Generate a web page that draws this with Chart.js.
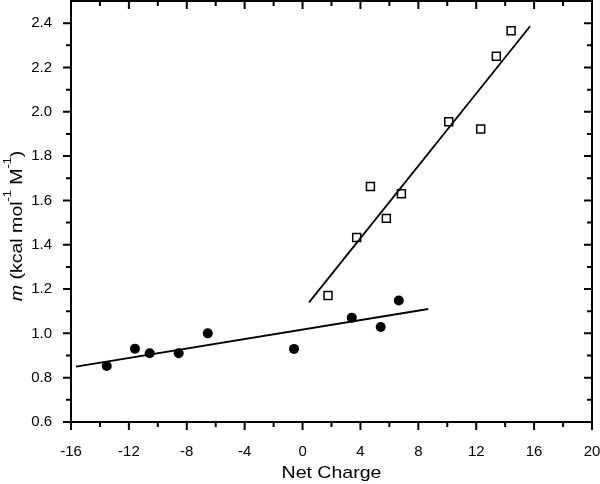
<!DOCTYPE html>
<html>
<head>
<meta charset="utf-8">
<script src="https://cdn.jsdelivr.net/npm/chart.js@4.4.0/dist/chart.umd.min.js"></script>
<style>
  html, body { margin: 0; padding: 0; background: #fff; }
  #wrap { width: 600px; height: 484px; }
</style>
</head>
<body>
<div id="wrap"><canvas id="grafico" width="600" height="484"></canvas></div>
<script>
// puntos negros (círculos)
const circleX = [-13.53, -11.58, -10.56, -8.56, -6.55, -0.59, 3.40, 5.40, 6.65];
const circleY = [0.853, 0.931, 0.910, 0.910, 1.000, 0.930, 1.071, 1.029, 1.148];

// cuadrados abiertos
const squareX = [1.76, 3.74, 4.69, 5.79, 6.83, 10.10, 12.31, 13.39, 14.41];
const squareY = [1.171, 1.433, 1.663, 1.519, 1.630, 1.955, 1.922, 2.251, 2.366];

// rectas de ajuste (extremos)
const fit1X = [-15.65, 8.69];
const fit1Y = [0.850, 1.110];
const fit2X = [0.45, 15.72];
const fit2Y = [1.140, 2.386];

const xTicks = [-16, -12, -8, -4, 0, 4, 8, 12, 16, 20];
const yTicks = [0.6, 0.8, 1.0, 1.2, 1.4, 1.6, 1.8, 2.0, 2.2, 2.4];

const xTitle = 'Net Charge';
const FONT = '"Liberation Sans", Arial, sans-serif';
const STRETCH = 1.15; // el original está algo ensanchado

function pares(xs, ys) {
    return xs.map((x, i) => ({ x: x, y: ys[i] }));
}

function sinPadding(s) {
    s.paddingLeft = 0; s.paddingRight = 0; s.paddingTop = 0; s.paddingBottom = 0;
}

// dibuja trozos de texto seguidos, centrados en (0,0)
function textoCompuesto(ctx, partes) {
    let total = 0;
    partes.forEach(p => { ctx.font = p.f; p.w = ctx.measureText(p.t).width; total += p.w; });
    let x = -total / 2;
    partes.forEach(p => {
        ctx.font = p.f;
        ctx.fillText(p.t, x, p.dy || 0);
        x += p.w;
    });
}

// marco, marcas mayores/menores y títulos
const marcoPlugin = {
    id: 'marco',
    afterDraw(chart) {
        const ctx = chart.ctx;
        const a = chart.chartArea;
        const sx = chart.scales.x, sy = chart.scales.y;
        ctx.save();
        ctx.strokeStyle = '#000';
        ctx.lineWidth = 2;
        ctx.strokeRect(a.left, a.top, a.right - a.left, a.bottom - a.top);

        ctx.beginPath();
        for (let v = -16; v <= 20; v += 2) {
            const px = sx.getPixelForValue(v);
            const len = (v % 4 === 0) ? 8 : 5;
            ctx.moveTo(px, a.bottom); ctx.lineTo(px, a.bottom + len);
            ctx.moveTo(px, a.top); ctx.lineTo(px, a.top + len);
        }
        for (let i = 6; i <= 24; i++) {
            const py = sy.getPixelForValue(i / 10);
            const len = (i % 2 === 0) ? 8 : 5;
            ctx.moveTo(a.left, py); ctx.lineTo(a.left - len, py);
            ctx.moveTo(a.right, py); ctx.lineTo(a.right - len, py);
        }
        ctx.stroke();

        ctx.fillStyle = '#000';
        ctx.textBaseline = 'alphabetic';

        // título X
        ctx.save();
        ctx.translate((a.left + a.right) / 2, 478);
        ctx.scale(STRETCH, 1);
        textoCompuesto(ctx, [{ t: xTitle, f: '17px ' + FONT }]);
        ctx.restore();

        // título Y: m (kcal mol-1 M-1)
        ctx.save();
        ctx.translate(22, 226);
        ctx.rotate(-Math.PI / 2);
        ctx.scale(STRETCH, 1);
        textoCompuesto(ctx, [
            { t: 'm', f: 'italic 17px ' + FONT },
            { t: ' (kcal mol', f: '17px ' + FONT },
            { t: '-1', f: '11px ' + FONT, dy: -11 },
            { t: ' M', f: '17px ' + FONT },
            { t: '-1', f: '11px ' + FONT, dy: -11 },
            { t: ')', f: '17px ' + FONT }
        ]);
        ctx.restore();
        ctx.restore();
    }
};

let ctx = document.getElementById('grafico').getContext('2d');
new Chart(ctx, {
    type: 'scatter',
    data: {
        datasets: [
            {
                data: pares(fit1X, fit1Y),
                showLine: true,
                borderColor: '#000',
                borderWidth: 1.8,
                pointRadius: 0
            },
            {
                data: pares(fit2X, fit2Y),
                showLine: true,
                borderColor: '#000',
                borderWidth: 1.8,
                pointRadius: 0
            },
            {
                data: pares(circleX, circleY),
                pointStyle: 'circle',
                pointRadius: 5,
                backgroundColor: '#000',
                borderColor: '#000',
                borderWidth: 0
            },
            {
                data: pares(squareX, squareY),
                pointStyle: 'rect',
                pointRadius: 5.6,
                backgroundColor: '#fff',
                borderColor: '#000',
                borderWidth: 1.5
            }
        ]
    },
    options: {
        responsive: false,
        animation: false,
        layout: { autoPadding: false, padding: { top: 1, right: 8, left: 0, bottom: 0 } },
        plugins: {
            legend: { display: false },
            tooltip: { enabled: false }
        },
        scales: {
            x: {
                type: 'linear',
                min: -16,
                max: 20,
                afterBuildTicks: s => { s.ticks = xTicks.map(v => ({ value: v })); },
                afterFit: s => { s.height = 62; sinPadding(s); },
                grid: { display: false },
                border: { display: false },
                ticks: {
                    color: '#000',
                    padding: 13,
                    maxRotation: 0,
                    font: { family: FONT, size: 15 },
                    callback: v => v
                }
            },
            y: {
                type: 'linear',
                min: 0.6,
                max: 2.5,
                afterBuildTicks: s => { s.ticks = yTicks.map(v => ({ value: v })); },
                afterFit: s => { s.width = 71; sinPadding(s); },
                grid: { display: false },
                border: { display: false },
                ticks: {
                    color: '#000',
                    padding: 11,
                    font: { family: FONT, size: 15 },
                    callback: v => v.toFixed(1)
                }
            }
        }
    },
    plugins: [marcoPlugin]
});
</script>
</body>
</html>
